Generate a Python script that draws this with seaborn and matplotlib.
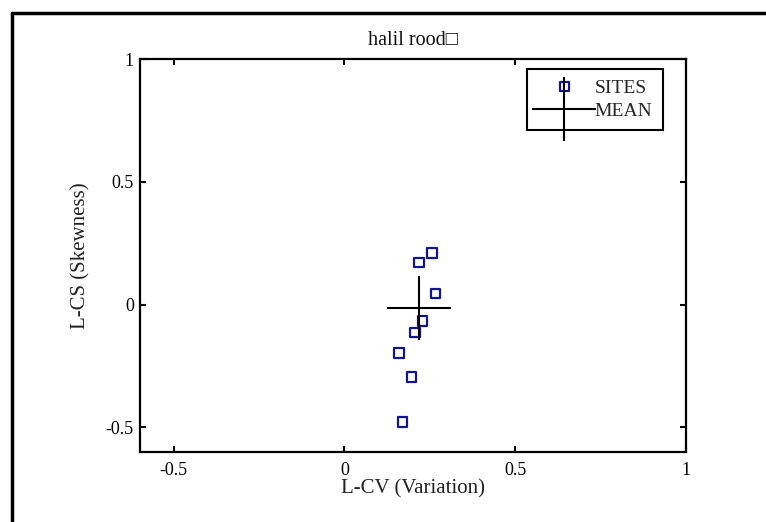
import matplotlib
matplotlib.use("Agg")
import matplotlib.pyplot as plt
from matplotlib.lines import Line2D
import seaborn as sns

# L-moment ratios
site_lcv = [0.218, 0.256, 0.267, 0.228, 0.206, 0.160, 0.196, 0.170]
site_lcs = [0.172, 0.210, 0.046, -0.067, -0.114, -0.196, -0.294, -0.477]
mean_lcv = [0.217]
mean_lcs = [-0.014]

tick_vals = [-0.5, 0, 0.5, 1]
tick_labels = ["-0.5", "0", "0.5", "1"]

sns.set_theme(style="white")
plt.rcParams["font.family"] = ["Liberation Serif", "DejaVu Serif"]
plt.rcParams["axes.unicode_minus"] = False

fig = plt.figure(figsize=(7.66, 5.22), dpi=100)
ax = fig.add_axes([139.5 / 766, 1 - 452 / 522, 546.5 / 766, 393 / 522])

sns.scatterplot(x=site_lcv, y=site_lcs, ax=ax, marker="s", s=48,
                color="#14148c", edgecolor="#14148c", facecolor="none",
                linewidth=1.6, label="SITES")
sns.scatterplot(x=mean_lcv, y=mean_lcs, ax=ax, marker="+", s=46 ** 2,
                color="black", linewidth=1.5, label="MEAN")

ax.set_xlim(-0.6, 1)
ax.set_ylim(-0.6, 1)
ax.set_xticks(tick_vals)
ax.set_xticklabels(tick_labels)
ax.set_yticks(tick_vals)
ax.set_yticklabels(tick_labels)
ax.tick_params(direction="in", length=4.5, width=1.5, colors="black",
               top=True, right=True, bottom=True, left=True, labelsize=13)
ax.tick_params(axis="x", pad=7)
ax.tick_params(axis="y", pad=4)
for sp in ax.spines.values():
    sp.set_color("black")
    sp.set_linewidth(1.6)

ax.set_xlabel("L-CV (Variation)", fontsize=15, color="#222222")
ax.set_ylabel("L-CS (Skewness)", fontsize=15, color="#222222")
ax.xaxis.set_label_coords(0.5, -0.07)
ax.yaxis.set_label_coords(-0.09, 0.5)
ax.set_title("halil rood\u25a1", fontsize=14.5, pad=10, color="#111111")

leg = ax.legend(loc="upper right", bbox_to_anchor=(663 / 766, 1 - 69 / 522),
                bbox_transform=fig.transFigure, fontsize=14, frameon=True,
                fancybox=False, framealpha=1, edgecolor="black",
                borderpad=0.55, handlelength=2.8, handletextpad=0.15,
                labelspacing=0.25, scatterpoints=1, scatteryoffsets=[0.5],
                borderaxespad=0)
leg.get_frame().set_linewidth(1.5)

# figure frame, only left and top edges show in the reference
fig.add_artist(Line2D([12 / 766, 12 / 766], [0, 1 - 12.5 / 522],
                      transform=fig.transFigure, color="black", linewidth=2.5))
fig.add_artist(Line2D([12 / 766, 1], [1 - 12.5 / 522, 1 - 12.5 / 522],
                      transform=fig.transFigure, color="black", linewidth=2.5))

fig.savefig("out.png", dpi=100)
